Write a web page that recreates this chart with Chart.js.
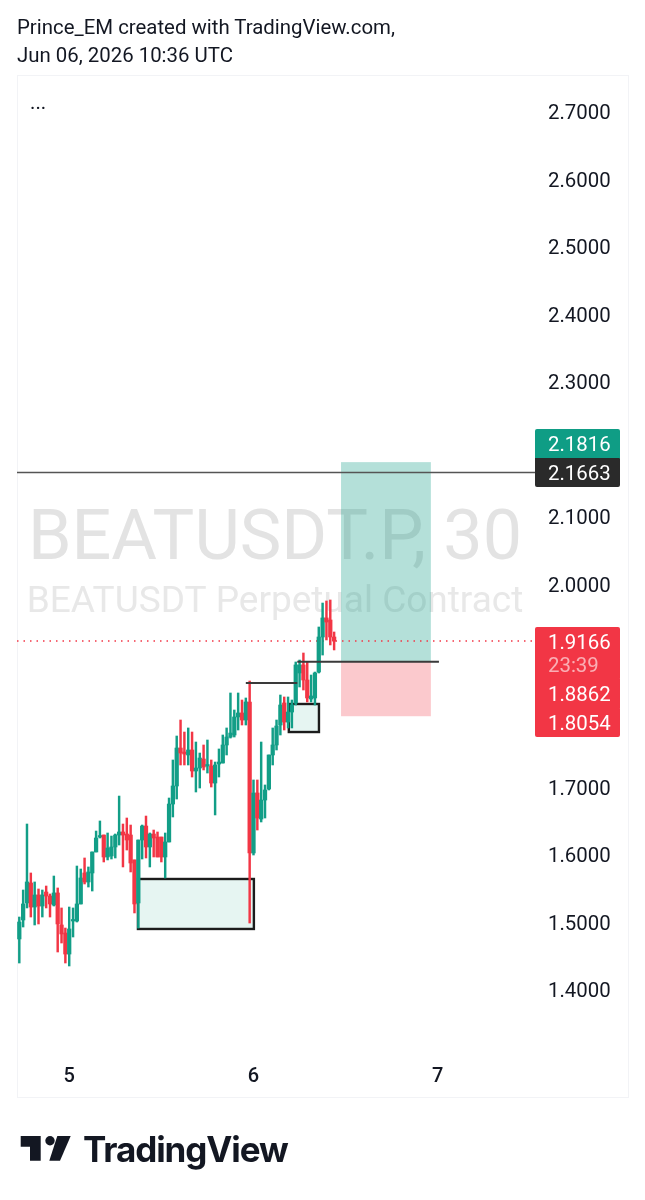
<!DOCTYPE html>
<html>
<head>
<meta charset="utf-8">
<title>BEATUSDT.P, 30</title>
<script src="https://cdn.jsdelivr.net/npm/chart.js@4/dist/chart.umd.min.js"></script>
<style>
    html, body { margin: 0; padding: 0; background: #fff; overflow: hidden; }
    #wrap { position: relative; width: 645px; height: 1200px; font-family: Roboto, sans-serif; color: #131722; }
    #chart { position: absolute; left: 0; top: 0; }
    .head { position: absolute; left: 17px; font-size: 20.4px; line-height: 28px; white-space: nowrap; }
    #brand { position: absolute; left: 83px; top: 1127px; font: 700 35px Inter, sans-serif; letter-spacing: -1.1px; line-height: 44px; color: #131722; }
    #logo { position: absolute; left: 0; top: 1120px; }
</style>
</head>
<body>
<div id="wrap">
    <canvas id="chart" width="645" height="1200"></canvas>
    <div class="head" style="top:13px">Prince_EM created with TradingView.com,</div>
    <div class="head" style="top:41px">Jun 06, 2026 10:36 UTC</div>
    <div class="head" style="top:88px;left:30px">...</div>
    <svg id="logo" width="80" height="50" viewBox="0 1120 80 50">
        <path fill="#131722" d="M20.7 1136H40.7V1160.7H30V1146.7H20.7Z"/>
        <circle fill="#131722" cx="50" cy="1140.7" r="4.7"/>
        <path fill="#131722" d="M57.3 1136H70.7L60 1160.7H49.3Z"/>
    </svg>
    <div id="brand">TradingView</div>
</div>
<script>
// 30 minute bars, one slot per bar
const slots = [0,1,2,3,4,5,6,7,8,9,10,11,12,13,14,15,16,17,18,19,20,21,22,23,24,25,26,27,28,29,30,31,32,33,34,35,36,37,38,39,40,41,42,43,44,45,46,47,48,49,50,51,52,53,54,55,56,57,58,59,60,61,62,63,64,65,66,67,68,69,70,71,72,73,74,75,76,77,78,79,80,81,82];
const opens = [1.4756,1.5037,1.5289,1.5585,1.5229,1.5407,1.5244,1.5451,1.5392,1.5259,1.5437,1.4963,1.4844,1.4533,1.5022,1.5022,1.5274,1.5733,1.56,1.5733,1.6044,1.6265,1.6295,1.597,1.5985,1.6118,1.6295,1.634,1.631,1.6295,1.5926,1.5289,1.6221,1.6428,1.6118,1.631,1.6265,1.6265,1.597,1.6192,1.6754,1.7021,1.7583,1.7524,1.748,1.7554,1.7243,1.7287,1.742,1.7317,1.7317,1.7065,1.7346,1.7361,1.7628,1.7746,1.7776,1.8043,1.8102,1.7998,1.8265,1.6029,1.6917,1.6532,1.6813,1.6976,1.748,1.7628,1.7924,1.825,1.7968,1.8116,1.825,1.8694,1.8813,1.859,1.8309,1.8324,1.8708,1.9227,1.9509,1.9479,1.9227];
const highs = [1.5081,1.5481,1.6458,1.5733,1.56,1.5496,1.5481,1.554,1.5422,1.5688,1.5511,1.5215,1.4918,1.5229,1.5215,1.5836,1.5792,1.5955,1.5822,1.6044,1.6354,1.6503,1.6295,1.6325,1.628,1.631,1.6872,1.6458,1.6547,1.6443,1.5926,1.6221,1.6443,1.6576,1.6325,1.6369,1.634,1.6265,1.6325,1.6843,1.7406,1.7761,1.7998,1.782,1.788,1.782,1.7672,1.7509,1.7628,1.7702,1.7406,1.7376,1.7569,1.7776,1.788,1.8398,1.8146,1.8398,1.8294,1.8324,1.8575,1.711,1.711,1.7672,1.7036,1.748,1.788,1.7998,1.8368,1.8339,1.8339,1.8294,1.8857,1.8886,1.899,1.8857,1.8664,1.8708,1.9375,1.973,1.976,1.9775,1.9301];
const lows = [1.44,1.4933,1.5215,1.5081,1.4963,1.4978,1.5081,1.5215,1.5081,1.5244,1.4563,1.4696,1.44,1.4356,1.4785,1.5007,1.5274,1.557,1.5525,1.5466,1.6044,1.6251,1.5896,1.5926,1.594,1.5955,1.6147,1.5822,1.6073,1.5748,1.5141,1.4918,1.594,1.5955,1.5822,1.597,1.597,1.5896,1.5659,1.6192,1.6562,1.6828,1.7332,1.7332,1.7332,1.7154,1.6932,1.6991,1.7258,1.7213,1.7006,1.6592,1.7154,1.7361,1.748,1.7731,1.7746,1.785,1.7924,1.7924,1.4992,1.5999,1.6369,1.6488,1.6547,1.6962,1.7332,1.7554,1.7776,1.785,1.788,1.788,1.822,1.8487,1.8442,1.8265,1.8265,1.822,1.8694,1.896,1.9183,1.9109,1.9035];
const closes = [1.5007,1.5274,1.56,1.5229,1.5407,1.5244,1.5407,1.5392,1.5274,1.5437,1.4978,1.483,1.4533,1.4904,1.5037,1.5274,1.5659,1.56,1.5748,1.6044,1.6251,1.628,1.597,1.6103,1.6118,1.6295,1.634,1.6295,1.6221,1.5881,1.5274,1.6221,1.6428,1.6118,1.631,1.6251,1.597,1.597,1.6192,1.6754,1.7021,1.7583,1.7509,1.7494,1.7554,1.7243,1.7287,1.7435,1.7302,1.7332,1.7065,1.7332,1.7376,1.7628,1.7746,1.7805,1.8043,1.8102,1.7998,1.8265,1.6029,1.6917,1.6547,1.6813,1.6962,1.748,1.7628,1.7909,1.822,1.7968,1.8116,1.822,1.8813,1.8813,1.859,1.8324,1.8354,1.8694,1.9227,1.9509,1.9449,1.9227,1.9166];

const yTickValues = [2.7,2.6,2.5,2.4,2.3,2.1,2.0,1.7,1.6,1.5,1.4];
const yTickLabels = ['2.7000','2.6000','2.5000','2.4000','2.3000','2.1000','2.0000','1.7000','1.6000','1.5000','1.4000'];
const dayTickSlots = [13,61,109];
const dayTickLabels = ['5','6','7'];

// drawings on the chart, in slot/price units
const targetPrice = 2.1816;
const resistancePrice = 2.1663;
const lastPrice = 1.9166;
const entryPrice = 1.8862;
const stopPrice = 1.8054;
const positionSlots = [83.8, 107.2];
const entryLineSlots = [72.4, 109.3];
const swingLine = [59, 72.4, 1.8546];
const demandBoxes = [
    [30.9, 61.1, 1.5644, 1.4904],
    [70.2, 78.05, 1.8235, 1.7820]
];
const priceTags = ['2.1816', '2.1663', '1.9166', '1.8862', '1.8054'];
const countdown = '23:39';

const GREEN = '#129e87';
const RED = '#f23645';
const barColors = slots.map(i => closes[i] >= opens[i] ? GREEN : RED);

const drawingsPlugin = {
    id: 'drawings',
    beforeDraw(chart) {
        const ctx = chart.ctx;
        ctx.save();
        ctx.fillStyle = '#fff';
        ctx.fillRect(0, 0, 645, 1200);
        ctx.strokeStyle = '#f2f3f6';
        ctx.lineWidth = 1;
        ctx.strokeRect(17.5, 75.5, 611, 1022);
        ctx.restore();
    },
    beforeDatasetsDraw(chart) {
        const { ctx, scales: { x, y }, chartArea } = chart;
        const px = v => x.getPixelForValue(v);
        const py = v => y.getPixelForValue(v);

        ctx.save();
        // watermark
        ctx.textAlign = 'center';
        ctx.textBaseline = 'alphabetic';
        ctx.fillStyle = '#e3e3e3';
        ctx.font = '400 70px Roboto';
        ctx.fillText('BEATUSDT.P, 30', 275, 559);
        ctx.fillStyle = '#e8e8e8';
        ctx.font = '400 37px Roboto';
        ctx.fillText('BEATUSDT Perpetual Contract', 275, 612);

        // long position
        const left = px(positionSlots[0]);
        const width = px(positionSlots[1]) - left;
        ctx.fillStyle = 'rgba(8,153,129,0.3)';
        ctx.fillRect(left, py(targetPrice), width, py(entryPrice) - py(targetPrice));
        ctx.fillStyle = 'rgba(242,54,69,0.27)';
        ctx.fillRect(left, py(entryPrice), width, py(stopPrice) - py(entryPrice));

        // boxes
        demandBoxes.forEach(b => {
            const bx = px(b[0]), by = py(b[2]);
            const bw = px(b[1]) - bx, bh = py(b[3]) - by;
            ctx.fillStyle = 'rgba(8,153,129,0.1)';
            ctx.fillRect(bx, by, bw, bh);
            ctx.strokeStyle = '#1c1c1c';
            ctx.lineWidth = 2.4;
            ctx.strokeRect(bx, by, bw, bh);
        });

        // last price dotted
        ctx.strokeStyle = RED;
        ctx.lineWidth = 1.5;
        ctx.setLineDash([1.5, 5]);
        ctx.beginPath();
        ctx.moveTo(chartArea.left, py(lastPrice));
        ctx.lineTo(chartArea.right, py(lastPrice));
        ctx.stroke();
        ctx.setLineDash([]);
        ctx.restore();
    },
    afterDatasetsDraw(chart) {
        const { ctx, scales: { x, y }, chartArea } = chart;
        const px = v => x.getPixelForValue(v);
        const py = v => y.getPixelForValue(v);

        ctx.save();
        ctx.strokeStyle = '#3a3a3a';
        ctx.lineWidth = 2;
        ctx.beginPath();
        ctx.moveTo(px(swingLine[0]), py(swingLine[2]));
        ctx.lineTo(px(swingLine[1]), py(swingLine[2]));
        ctx.moveTo(px(entryLineSlots[0]), py(entryPrice));
        ctx.lineTo(px(entryLineSlots[1]), py(entryPrice));
        ctx.stroke();
        ctx.strokeStyle = '#555';
        ctx.lineWidth = 1.5;
        ctx.beginPath();
        ctx.moveTo(chartArea.left, py(resistancePrice));
        ctx.lineTo(chartArea.right + 2, py(resistancePrice));
        ctx.stroke();

        // price tags, stacked the way they sit on the scale
        const tagBox = (top, h, color, radii) => {
            ctx.fillStyle = color;
            ctx.beginPath();
            ctx.roundRect(535, top, 85, h, radii);
            ctx.fill();
        };
        tagBox(429, 30, '#0f9d85', [2, 2, 1, 0]);
        tagBox(458, 29, '#2a2a2a', [0, 1, 2, 2]);
        tagBox(627, 52, RED, [2, 2, 1, 0]);
        tagBox(678, 31, RED, [0, 1, 1, 0]);
        tagBox(708, 29, RED, [0, 1, 2, 2]);
        ctx.textAlign = 'left';
        ctx.textBaseline = 'middle';
        ctx.font = '400 20.4px Roboto';
        ctx.fillStyle = '#fff';
        ctx.fillText(priceTags[0], 548, 445.5);
        ctx.fillText(priceTags[1], 548, 474.5);
        ctx.fillText(priceTags[2], 548, 643.5);
        ctx.fillText(priceTags[3], 548, 695.5);
        ctx.fillText(priceTags[4], 548, 724.5);
        ctx.fillStyle = 'rgba(255,255,255,0.6)';
        ctx.fillText(countdown, 548, 666.5);
        ctx.restore();
    }
};

new Chart(document.getElementById('chart'), {
    type: 'bar',
    data: {
        labels: slots,
        datasets: [
            {
                label: 'wick',
                data: slots.map(i => [lows[i], highs[i]]),
                backgroundColor: barColors,
                barThickness: 1.8,
                order: 2
            },
            {
                label: 'body',
                data: slots.map(i => [opens[i], closes[i]]),
                backgroundColor: barColors,
                barThickness: 3.6,
                minBarLength: 1.5,
                order: 1
            }
        ]
    },
    options: {
        responsive: false,
        animation: false,
        devicePixelRatio: 1,
        layout: { padding: { left: 17, right: 17, top: 75, bottom: 103 } },
        plugins: { legend: { display: false }, tooltip: { enabled: false } },
        datasets: { bar: { grouped: false } },
        scales: {
            x: {
                type: 'linear',
                min: -0.6,
                max: 133.8,
                offset: false,
                grid: { display: false, drawTicks: false },
                border: { display: false },
                afterFit(scale) { scale.height = 47; },
                afterBuildTicks(scale) { scale.ticks = dayTickSlots.map(value => ({ value })); },
                ticks: {
                    autoSkip: false,
                    maxRotation: 0,
                    padding: 15,
                    color: '#131722',
                    font: { family: 'Roboto', size: 20, weight: '500' },
                    callback: value => dayTickLabels[dayTickSlots.indexOf(value)]
                }
            },
            y: {
                position: 'right',
                min: 1.3112,
                max: 2.7548,
                grid: { display: false, drawTicks: false },
                border: { display: false },
                afterFit(scale) { scale.width = 95; },
                afterBuildTicks(scale) { scale.ticks = yTickValues.map(value => ({ value })); },
                ticks: {
                    autoSkip: false,
                    padding: 15,
                    labelOffset: 2,
                    color: '#131722',
                    font: { family: 'Roboto', size: 20.4 },
                    callback: value => yTickLabels[yTickValues.indexOf(value)]
                }
            }
        }
    },
    plugins: [drawingsPlugin]
});
</script>
</body>
</html>
